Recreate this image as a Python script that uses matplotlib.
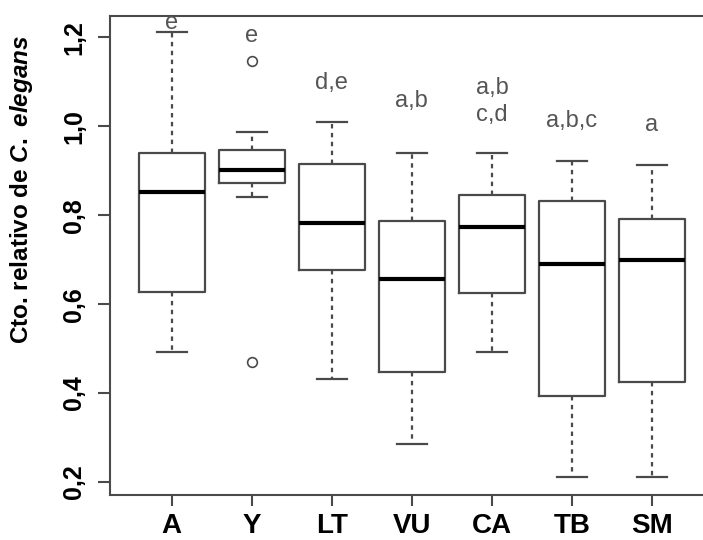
import matplotlib
matplotlib.use('Agg')
import matplotlib.pyplot as plt

plt.rcParams['font.family'] = 'Liberation Sans'
plt.rcParams['mathtext.fontset'] = 'custom'
plt.rcParams['mathtext.rm'] = 'Liberation Sans:bold'
plt.rcParams['mathtext.it'] = 'Liberation Sans:bold:italic'

# values
groups = ['A', 'Y', 'LT', 'VU', 'CA', 'TB', 'SM']
whisker_low = [0.493, 0.842, 0.432, 0.285, 0.493, 0.211, 0.211]
q1 = [0.627, 0.873, 0.678, 0.447, 0.626, 0.393, 0.424]
medians = [0.853, 0.902, 0.782, 0.656, 0.773, 0.690, 0.699]
q3 = [0.940, 0.947, 0.915, 0.786, 0.846, 0.833, 0.792]
whisker_high = [1.212, 0.987, 1.009, 0.940, 0.941, 0.922, 0.912]
outliers = [[], [1.148, 0.471], [], [], [], [], []]

letters = ['e', 'e', 'd,e', 'a,b', 'a,b\nc,d', 'a,b,c', 'a']
letter_y = [1.233, 1.204, 1.097, 1.056, 1.055, 1.011, 1.003]

yticks = [0.2, 0.4, 0.6, 0.8, 1.0, 1.2]
ytick_labels = ['0,2', '0,4', '0,6', '0,8', '1,0', '1,2']

stats = []
for i in range(len(groups)):
    stats.append({'whislo': whisker_low[i], 'q1': q1[i], 'med': medians[i],
                  'q3': q3[i], 'whishi': whisker_high[i], 'fliers': outliers[i]})

fig = plt.figure(figsize=(7.03, 5.4), dpi=100)
W, H = 703, 540
ax = fig.add_axes([110 / W, (H - 495.3) / H, 604 / W, 479.6 / H])

line_col = '#4a4a4a'
pos = list(range(1, len(groups) + 1))
ax.bxp(stats, positions=pos, widths=0.82, capwidths=0.38,
       boxprops=dict(color=line_col, linewidth=1.6),
       medianprops=dict(color='black', linewidth=3),
       whiskerprops=dict(color=line_col, linewidth=1.6, linestyle=(0, (2, 2))),
       capprops=dict(color=line_col, linewidth=1.6),
       flierprops=dict(marker='o', markersize=7, markerfacecolor='none',
                       markeredgecolor=line_col, markeredgewidth=1.2))

for x, t, y in zip(pos, letters, letter_y):
    ax.text(x, y, t, ha='center', va='center', fontsize=17, color='#555555',
            linespacing=1.3)

ax.set_xlim(0.229, 7.775)
ax.set_ylim(0.170, 1.249)
ax.set_xticks(pos)
ax.set_xticklabels(groups, fontsize=20, fontweight='bold')
ax.set_yticks(yticks)
ax.set_yticklabels(ytick_labels, fontsize=18, fontweight='bold', rotation=90,
                   va='center')
ax.tick_params(axis='y', length=9, width=1.5, color=line_col, pad=8)
ax.tick_params(axis='x', length=8, width=1.5, color=line_col, pad=5)
for s in ax.spines.values():
    s.set_color(line_col)
    s.set_linewidth(1.5)
ax.spines['right'].set_visible(False)

ax.set_ylabel(r'Cto. relativo de $C.\ elegans$', fontsize=17.5, fontweight='bold')
ax.yaxis.set_label_coords(-0.124, 0.637)

fig.savefig('out.png', dpi=100)
